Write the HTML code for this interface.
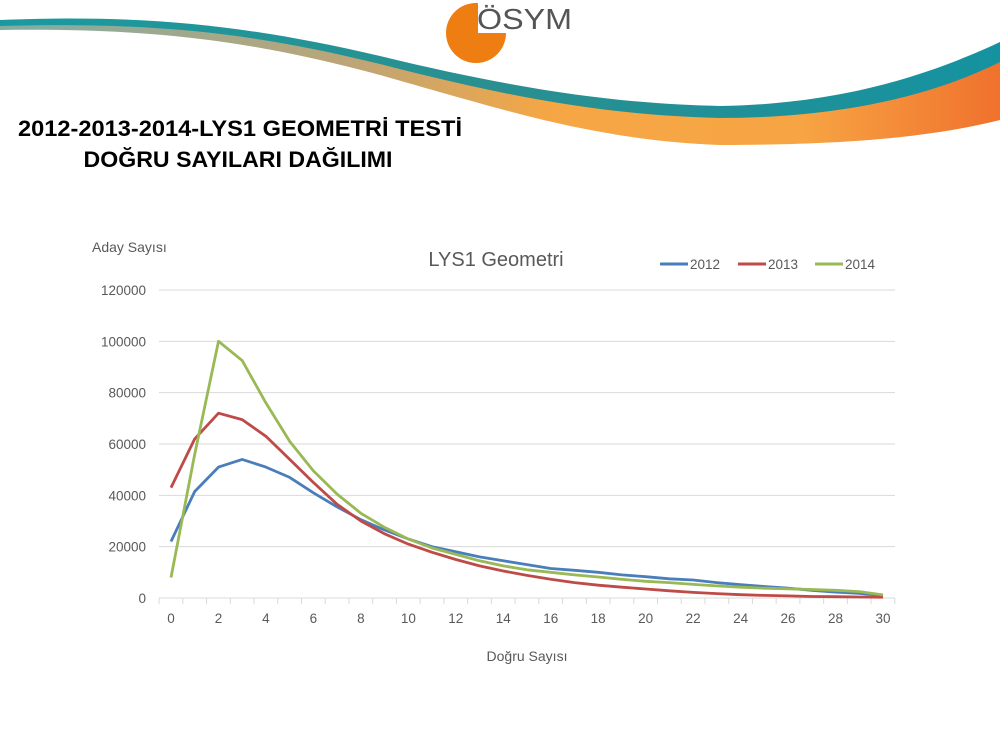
<!DOCTYPE html>
<html><head><meta charset="utf-8"><style>
html,body{margin:0;padding:0;background:#fff;width:1000px;height:750px;overflow:hidden}
text{font-family:"Liberation Sans",sans-serif}
</style></head><body>
<svg id="s" width="1000" height="750" viewBox="0 0 1000 750" xmlns="http://www.w3.org/2000/svg">
<defs>
<linearGradient id="og" x1="0" x2="1" y1="0" y2="0">
<stop offset="0" stop-color="#7aa8a0"/><stop offset="0.35" stop-color="#b9a070"/><stop offset="0.55" stop-color="#f5a23a"/><stop offset="0.8" stop-color="#f7a03a"/><stop offset="1" stop-color="#ef6a22"/></linearGradient>
<linearGradient id="tg" x1="0" x2="1"><stop offset="0" stop-color="#1a9aa0"/><stop offset="0.5" stop-color="#2a8f90"/><stop offset="1" stop-color="#1592a0"/></linearGradient>
</defs>
<path d="M0,22 C150,18 250,30 380,60 C520,95 600,110 720,112 C850,112 940,80 1000,50 L1000,120 C940,135 860,145 720,145 C600,140 520,115 380,75 C250,40 150,28 0,30 Z" fill="url(#og)" opacity="0.95"/>
<path d="M0,20 C150,14 250,26 380,56 C520,90 620,104 720,106 C850,104 940,70 1000,42 L1000,62 C940,92 850,118 720,118 C610,115 520,100 380,64 C250,32 150,22 0,26 Z" fill="url(#tg)"/>
<circle cx="476" cy="33" r="30" fill="#ee7d12"/>
<rect x="478" y="0" width="40" height="33" fill="#fff"/>
<text x="477" y="29" font-size="29" fill="#555" textLength="95" lengthAdjust="spacingAndGlyphs">ÖSYM</text>
<text x="240" y="136" font-size="22" font-weight="bold" text-anchor="middle" fill="#000" textLength="444" lengthAdjust="spacingAndGlyphs">2012-2013-2014-LYS1 GEOMETRİ TESTİ</text>
<text x="238" y="167" font-size="22" font-weight="bold" text-anchor="middle" fill="#000" textLength="309" lengthAdjust="spacingAndGlyphs">DOĞRU SAYILARI DAĞILIMI</text>
<text x="92" y="252" font-size="14" fill="#595959">Aday Sayısı</text>
<text x="496" y="266" font-size="20" text-anchor="middle" fill="#595959">LYS1 Geometri</text>
<text x="527" y="661" font-size="14" text-anchor="middle" fill="#595959">Doğru Sayısı</text>
<g font-size="13.5" fill="#595959">
<line x1="660" y1="264" x2="688" y2="264" stroke="#4a7ebb" stroke-width="3"/><text x="690" y="269">2012</text>
<line x1="738" y1="264" x2="766" y2="264" stroke="#be4b48" stroke-width="3"/><text x="768" y="269">2013</text>
<line x1="815" y1="264" x2="843" y2="264" stroke="#98b954" stroke-width="3"/><text x="845" y="269">2014</text>
</g>
<g id="g"></g>
</svg>
<script>
var g=document.getElementById('g'),h='';
function X(i){return 171+i*23.733}function Y(v){return 598-v*308/120}
for(var k=0;k<=6;k++){var y=Y(k*20);
 if(k>0)h+='<line x1="159" x2="895" y1="'+y+'" y2="'+y+'" stroke="#d9d9d9" stroke-width="1"/>';
 h+='<text x="146" y="'+(y+5)+'" font-size="13.5" text-anchor="end" fill="#595959">'+(k*20000)+'</text>';}
h+='<line x1="159" x2="895" y1="598" y2="598" stroke="#d9d9d9"/>';
for(var i=0;i<=31;i++){var x=159.1+i*23.733;h+='<line x1="'+x+'" x2="'+x+'" y1="598" y2="604" stroke="#d9d9d9"/>';}
for(var i=0;i<=30;i+=2)h+='<text x="'+X(i)+'" y="623" font-size="13.5" text-anchor="middle" fill="#595959">'+i+'</text>';
var d={'#4a7ebb':[22,41.5,51,54,51,47,41,35.5,30.5,26.5,23,20,18,16,14.5,13,11.5,10.8,10,9,8.3,7.5,7,6,5.2,4.5,3.8,3,2.3,1.8,1],
'#be4b48':[43,62,72,69.5,63,54,45,36.5,30,25,21,17.8,15,12.5,10.5,8.8,7.3,6,5,4.2,3.5,2.8,2.2,1.7,1.3,1,0.8,0.6,0.5,0.4,0.3],
'#98b954':[8,56,100,92.5,76,61,49.5,40.5,33,27.5,23,19.5,17,14.5,12.5,11,10,9,8.2,7.3,6.5,6,5.3,4.7,4.2,3.8,3.6,3.3,3,2.5,1.2]};
for(var c in d){var p=d[c].map(function(v,i){return X(i).toFixed(1)+','+Y(v).toFixed(1)}).join(' ');
 h+='<polyline points="'+p+'" fill="none" stroke="'+c+'" stroke-width="2.8" stroke-linejoin="round"/>';}
g.innerHTML=h;
</script>
</body></html>
